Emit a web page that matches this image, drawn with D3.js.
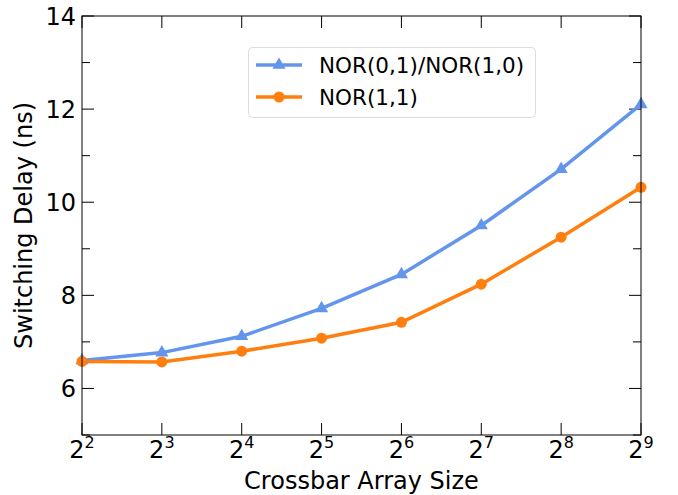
<!DOCTYPE html>
<html lang="en">
<head>
<meta charset="utf-8">
<title>Switching Delay</title>
<script src="https://d3js.org/d3.v7.min.js"></script>
<style>
  body { margin: 0; background: #fff; }
  svg text { font-family: "DejaVu Sans", sans-serif; fill: #000; }
</style>
</head>
<body>
<div id="chart"></div>
<script>
// data
var exponents = [2, 3, 4, 5, 6, 7, 8, 9];
var norMixed = [6.60, 6.77, 7.12, 7.72, 8.45, 9.50, 10.71, 12.10];
var norOnes = [6.58, 6.57, 6.80, 7.08, 7.42, 8.24, 9.25, 10.32];
var yTicks = [6, 8, 10, 12, 14];
var yMinor = [5, 7, 9, 11, 13];
var seriesNames = ["NOR(0,1)/NOR(1,0)", "NOR(1,1)"];

var W = 678, H = 495;
var margin = {left: 82, right: 37, top: 16, bottom: 60};

var svg = d3.select("#chart").append("svg")
  .attr("width", W).attr("height", H);

var x = d3.scaleLinear().domain([2, 9]).range([margin.left, W - margin.right]);
var y = d3.scaleLinear().domain([5, 14]).range([H - margin.bottom, margin.top]);

var x0 = x.range()[0], x1 = x.range()[1];
var y0 = y.range()[0], y1 = y.range()[1];

// ticks, all pointing inward
var g = svg.append("g").attr("stroke", "#000").attr("stroke-width", 1);
exponents.forEach(function(e) {
  g.append("line").attr("x1", x(e)).attr("x2", x(e)).attr("y1", y0).attr("y2", y0 - 12);
  g.append("line").attr("x1", x(e)).attr("x2", x(e)).attr("y1", y1).attr("y2", y1 + 12);
});
yTicks.forEach(function(v) {
  g.append("line").attr("x1", x0).attr("x2", x0 + 12).attr("y1", y(v)).attr("y2", y(v));
  g.append("line").attr("x1", x1).attr("x2", x1 - 12).attr("y1", y(v)).attr("y2", y(v));
});
yMinor.forEach(function(v) {
  g.append("line").attr("x1", x0).attr("x2", x0 + 8).attr("y1", y(v)).attr("y2", y(v));
  g.append("line").attr("x1", x1).attr("x2", x1 - 8).attr("y1", y(v)).attr("y2", y(v));
});

// tick labels
yTicks.forEach(function(v) {
  svg.append("text").attr("x", x0 - 6).attr("y", y(v) + 9)
    .attr("text-anchor", "end").style("font-size", "24px").text(v);
});
exponents.forEach(function(e) {
  var t = svg.append("text").attr("x", x(e)).attr("y", y0 + 23)
    .attr("text-anchor", "middle").style("font-size", "24px");
  t.append("tspan").text("2");
  t.append("tspan").attr("dy", -10).style("font-size", "16px").text(e);
});

// axis titles
svg.append("text").attr("x", (x0 + x1) / 2).attr("y", 489)
  .attr("text-anchor", "middle").style("font-size", "24px").text("Crossbar Array Size");
svg.append("text").attr("transform", "translate(32," + ((y0 + y1) / 2) + ") rotate(-90)")
  .attr("text-anchor", "middle").style("font-size", "24px").text("Switching Delay (ns)");

// lines
var line = d3.line().x(function(d, i) { return x(exponents[i]); }).y(function(d) { return y(d); });
var colors = ["#6495ed", "#ff7f0e"];

svg.append("path").datum(norMixed).attr("d", line)
  .attr("fill", "none").attr("stroke", colors[0]).attr("stroke-width", 3.5);
svg.append("path").datum(norOnes).attr("d", line)
  .attr("fill", "none").attr("stroke", colors[1]).attr("stroke-width", 3.5);

var tri = d3.symbol().type(d3.symbolTriangle).size(75);
svg.selectAll(".tri").data(norMixed).enter().append("path")
  .attr("d", tri)
  .attr("transform", function(d, i) { return "translate(" + x(exponents[i]) + "," + y(d) + ")"; })
  .attr("fill", colors[0]);
svg.selectAll(".dot").data(norOnes).enter().append("circle")
  .attr("cx", function(d, i) { return x(exponents[i]); })
  .attr("cy", function(d) { return y(d); })
  .attr("r", 5.5).attr("fill", colors[1]);

// frame on top
svg.append("rect").attr("x", x0).attr("y", y1).attr("width", x1 - x0).attr("height", y0 - y1)
  .attr("fill", "none").attr("stroke", "#000").attr("stroke-width", 1);

// legend
var leg = svg.append("g");
leg.append("rect").attr("x", 248.5).attr("y", 47.5).attr("width", 287).attr("height", 70)
  .attr("rx", 4).attr("fill", "#fff").attr("fill-opacity", 0.8)
  .attr("stroke", "#ddd").attr("stroke-width", 1);
seriesNames.forEach(function(name, i) {
  var ly = 65 + i * 32;
  leg.append("line").attr("x1", 256).attr("x2", 302).attr("y1", ly).attr("y2", ly)
    .attr("stroke", colors[i]).attr("stroke-width", 3.5);
  if (i === 0) {
    leg.append("path").attr("d", tri).attr("transform", "translate(279," + ly + ")").attr("fill", colors[i]);
  } else {
    leg.append("circle").attr("cx", 279).attr("cy", ly).attr("r", 5.5).attr("fill", colors[i]);
  }
  leg.append("text").attr("x", 319).attr("y", ly + 8).style("font-size", "21.5px").text(name);
});
</script>
</body>
</html>
